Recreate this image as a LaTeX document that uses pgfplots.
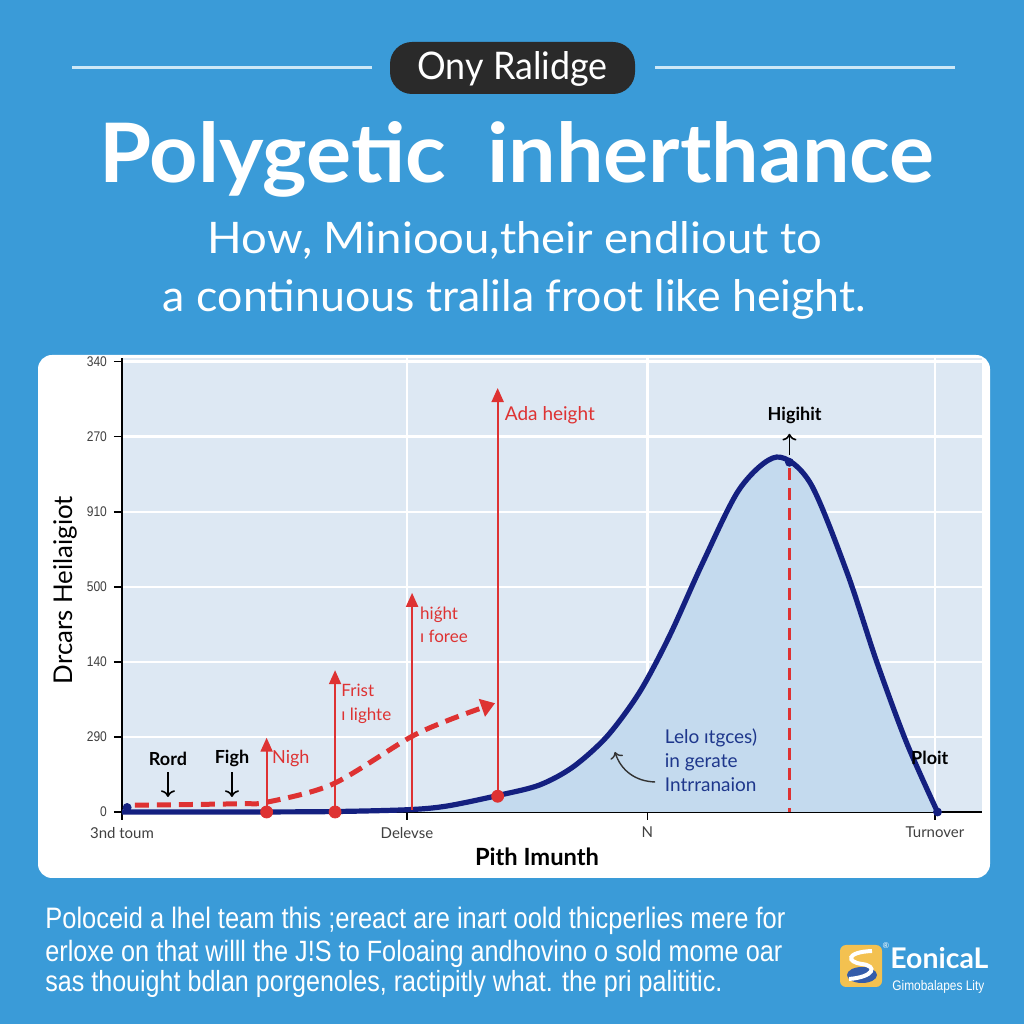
\documentclass[border=0pt]{standalone}
\usepackage{pgfplots}
\pgfplotsset{compat=1.18}
\usepackage{fontspec}
\usetikzlibrary{arrows.meta}
\setmainfont{Lato}
\newfontfamily\narrowfont[FakeStretch=0.86]{Liberation Sans}
\definecolor{bgblue}{RGB}{58,155,216}
\definecolor{plotbg}{RGB}{221,232,243}
\definecolor{curvefill}{RGB}{196,218,238}
\definecolor{navy}{RGB}{20,32,128}
\definecolor{myred}{RGB}{222,50,50}
\definecolor{annblue}{RGB}{30,55,140}
\definecolor{pill}{RGB}{42,42,42}
\definecolor{rulec}{RGB}{205,232,247}
\definecolor{logoyel}{RGB}{243,193,80}
\definecolor{logoblue}{RGB}{52,92,170}

\pgfplotstableread{
x y
0 0
12 0
24 0.005
33.3 0.03
38 0.08
44.2 0.227
48.8 0.36
52.7 0.6
56.7 1.01
60.5 1.6
64.0 2.35
67.9 3.33
72.2 4.31
76.5 4.73
80.4 4.39
84.7 3.2
88.2 2.0
91.7 0.92
95.3 0
}\distdata

\begin{document}
\begin{tikzpicture}[x=0.5pt,y=0.5pt]
\fill[bgblue] (0,0) rectangle (1024,1024);
% header
\draw[rulec, line width=1.5pt] (72,956) -- (372,956);
\draw[rulec, line width=1.5pt] (655,956) -- (955,956);
\fill[pill, rounded corners=11pt] (390,930) rectangle (635,982);
\node[white, inner sep=0] at (512.5,955) {\resizebox{95pt}{14pt}{Ony Ralidge}};
\node[anchor=base, white, inner sep=0] at (517,841) {\resizebox{417.5pt}{30.5pt}{\bfseries Polygetic\ \ inherthance}};
\node[anchor=base, white, inner sep=0] at (515,770) {\resizebox{307pt}{16pt}{How, Minioou,their endliout to}};
\node[anchor=base, white, inner sep=0] at (514.5,712) {\resizebox{351.5pt}{16pt}{a continuous tralila froot like height.}};
% chart panel
\fill[white, rounded corners=7pt] (38,146) rectangle (990,669);

\begin{axis}[
  at={(61pt,106pt)}, anchor=south west,
  scale only axis, width=430pt, height=227pt,
  xmin=0, xmax=100.5, ymin=0, ymax=6.05,
  axis x line*=bottom, axis y line*=left,
  axis line style={-, black, line width=0.9pt},
  axis background/.style={fill=plotbg},
  xtick={0,33.3,61.4,95}, xticklabels={3nd toum,Delevse,N,Turnover},
  ytick={0,1,2,3,4,5,6}, yticklabels={0,290,140,500,910,270,340},
  tick align=outside, major tick length=4pt,
  tick style={black, line width=0.7pt},
  xmajorgrids, ymajorgrids, grid style={white, line width=1.3pt},
  x tick label style={font=\fontsize{7.5pt}{9pt}\selectfont, text=black!75},
  y tick label style={font=\narrowfont\fontsize{7pt}{9pt}\selectfont, text=black!75},
  clip=false,
]
% filled distribution
\addplot[fill=curvefill, draw=none, smooth] table {\distdata} \closedcycle;
\addplot[navy, line width=2.6pt, smooth] table {\distdata};
\addplot[only marks, mark=*, mark size=2pt, navy] coordinates {(0.6,0.06) (95.3,0) (78,4.66)};
% red dashed trend
\addplot[myred, line width=2.5pt, dash pattern=on 7pt off 4pt, smooth,
  -{Triangle[length=7pt,width=9pt]}] coordinates {
(1.5,0.09) (13.8,0.11) (16.9,0.13) (24.6,0.37) (33.6,0.99) (38.3,1.23) (43.6,1.45)};
% red vertical arrows
\addplot[myred, line width=1pt, -{Triangle[length=7pt,width=6pt]}] coordinates {(16.9,0) (16.9,0.99)};
\addplot[myred, line width=1pt, -{Triangle[length=7pt,width=6pt]}] coordinates {(24.9,0) (24.9,1.89)};
\addplot[myred, line width=1pt, -{Triangle[length=7pt,width=6pt]}] coordinates {(33.9,0.03) (33.9,2.92)};
\addplot[myred, line width=1pt, -{Triangle[length=7pt,width=6pt]}] coordinates {(43.9,0.21) (43.9,5.65)};
\addplot[only marks, mark=*, mark size=3pt, myred] coordinates {(16.9,0) (24.9,0) (43.9,0.21)};
\addplot[myred, line width=1.5pt, dash pattern=on 6pt off 4pt] coordinates {(78,4.58) (78,0)};
% black arrows
\addplot[black, line width=0.8pt, -{To}] coordinates {(78,4.76) (78,5.04)};
\addplot[black, line width=0.8pt, -{To}] coordinates {(5.37,0.53) (5.37,0.2)};
\addplot[black, line width=0.8pt, -{To}] coordinates {(12.85,0.53) (12.85,0.2)};
\draw[black!80, line width=0.7pt, -{To}] (axis cs:62.3,0.4) to[bend left=35] (axis cs:57.6,0.8);
% annotations
\node[font=\fontsize{9pt}{11pt}\selectfont\bfseries] at (axis cs:5.37,0.71) {Rord};
\node[font=\fontsize{9pt}{11pt}\selectfont\bfseries] at (axis cs:12.85,0.71) {Figh};
\node[anchor=west, inner sep=0, myred, font=\fontsize{9pt}{11pt}\selectfont] at (axis cs:17.5,0.71) {Nigh};
\node[anchor=west, inner sep=0, myred, align=left, font=\fontsize{8.5pt}{12pt}\selectfont] at (axis cs:25.6,1.44) {Frist\\ı lighte};
\node[anchor=west, inner sep=0, myred, align=left, font=\fontsize{8.5pt}{11.5pt}\selectfont] at (axis cs:34.8,2.49) {hiǵht\\ı foree};
\node[anchor=west, inner sep=0, myred, font=\fontsize{9.5pt}{11pt}\selectfont] at (axis cs:44.7,5.29) {Ada height};
\node[inner sep=0, font=\fontsize{9pt}{11pt}\selectfont\bfseries] at (axis cs:78.6,5.29) {Higihit};
\node[inner sep=0, font=\fontsize{9pt}{11pt}\selectfont\bfseries] at (axis cs:94.4,0.72) {Ploit};
\node[anchor=west, inner sep=0, annblue, align=left, font=\fontsize{9.5pt}{12pt}\selectfont] at (axis cs:63.4,0.69) {Lelo ıtgces)\\in gerate\\Intrranaion};
\end{axis}

% axis titles
\node[rotate=90, inner sep=0] at (65,434) {\resizebox{94pt}{!}{Drcars Heilaigiot}};
\node[anchor=base, inner sep=0] at (537,158) {\resizebox{62pt}{!}{\bfseries Pith Imunth}};

% footer text
\node[anchor=base west, white, inner sep=0] at (45,95) {\resizebox{370pt}{!}{\narrowfont Poloceid a lhel team this ;ereact are inart oold thicperlies mere for}};
\node[anchor=base west, white, inner sep=0] at (45,62) {\resizebox{368.5pt}{!}{\narrowfont erloxe on that willl the J!S to Foloaing andhovino o sold mome oar}};
\node[anchor=base west, white, inner sep=0] at (45,32) {\resizebox{338.5pt}{!}{\narrowfont sas thouight bdlan porgenoles, ractipitly what. the pri palititic.}};

% logo
\fill[logoyel, rounded corners=3pt] (840,37) rectangle (882,79);
\fill[logoblue] (862,49) ellipse (15 and 8);
\draw[white, line width=2pt] (872,73) .. controls (846,72) and (846,62) .. (862,60) .. controls (878,58) and (874,47) .. (849,45);
\node[anchor=base west, white, inner sep=0] at (890,55) {\resizebox{49pt}{!}{\bfseries EonicaL}};
\node[white, inner sep=0, font=\fontsize{4pt}{4pt}\selectfont] at (886,78) {®};
\node[anchor=base west, white, inner sep=0] at (892,33) {\resizebox{46pt}{!}{\narrowfont Gimobalapes Lity}};

\pgfresetboundingbox
\useasboundingbox (0,0) rectangle (1024,1024);
\end{tikzpicture}
\end{document}
